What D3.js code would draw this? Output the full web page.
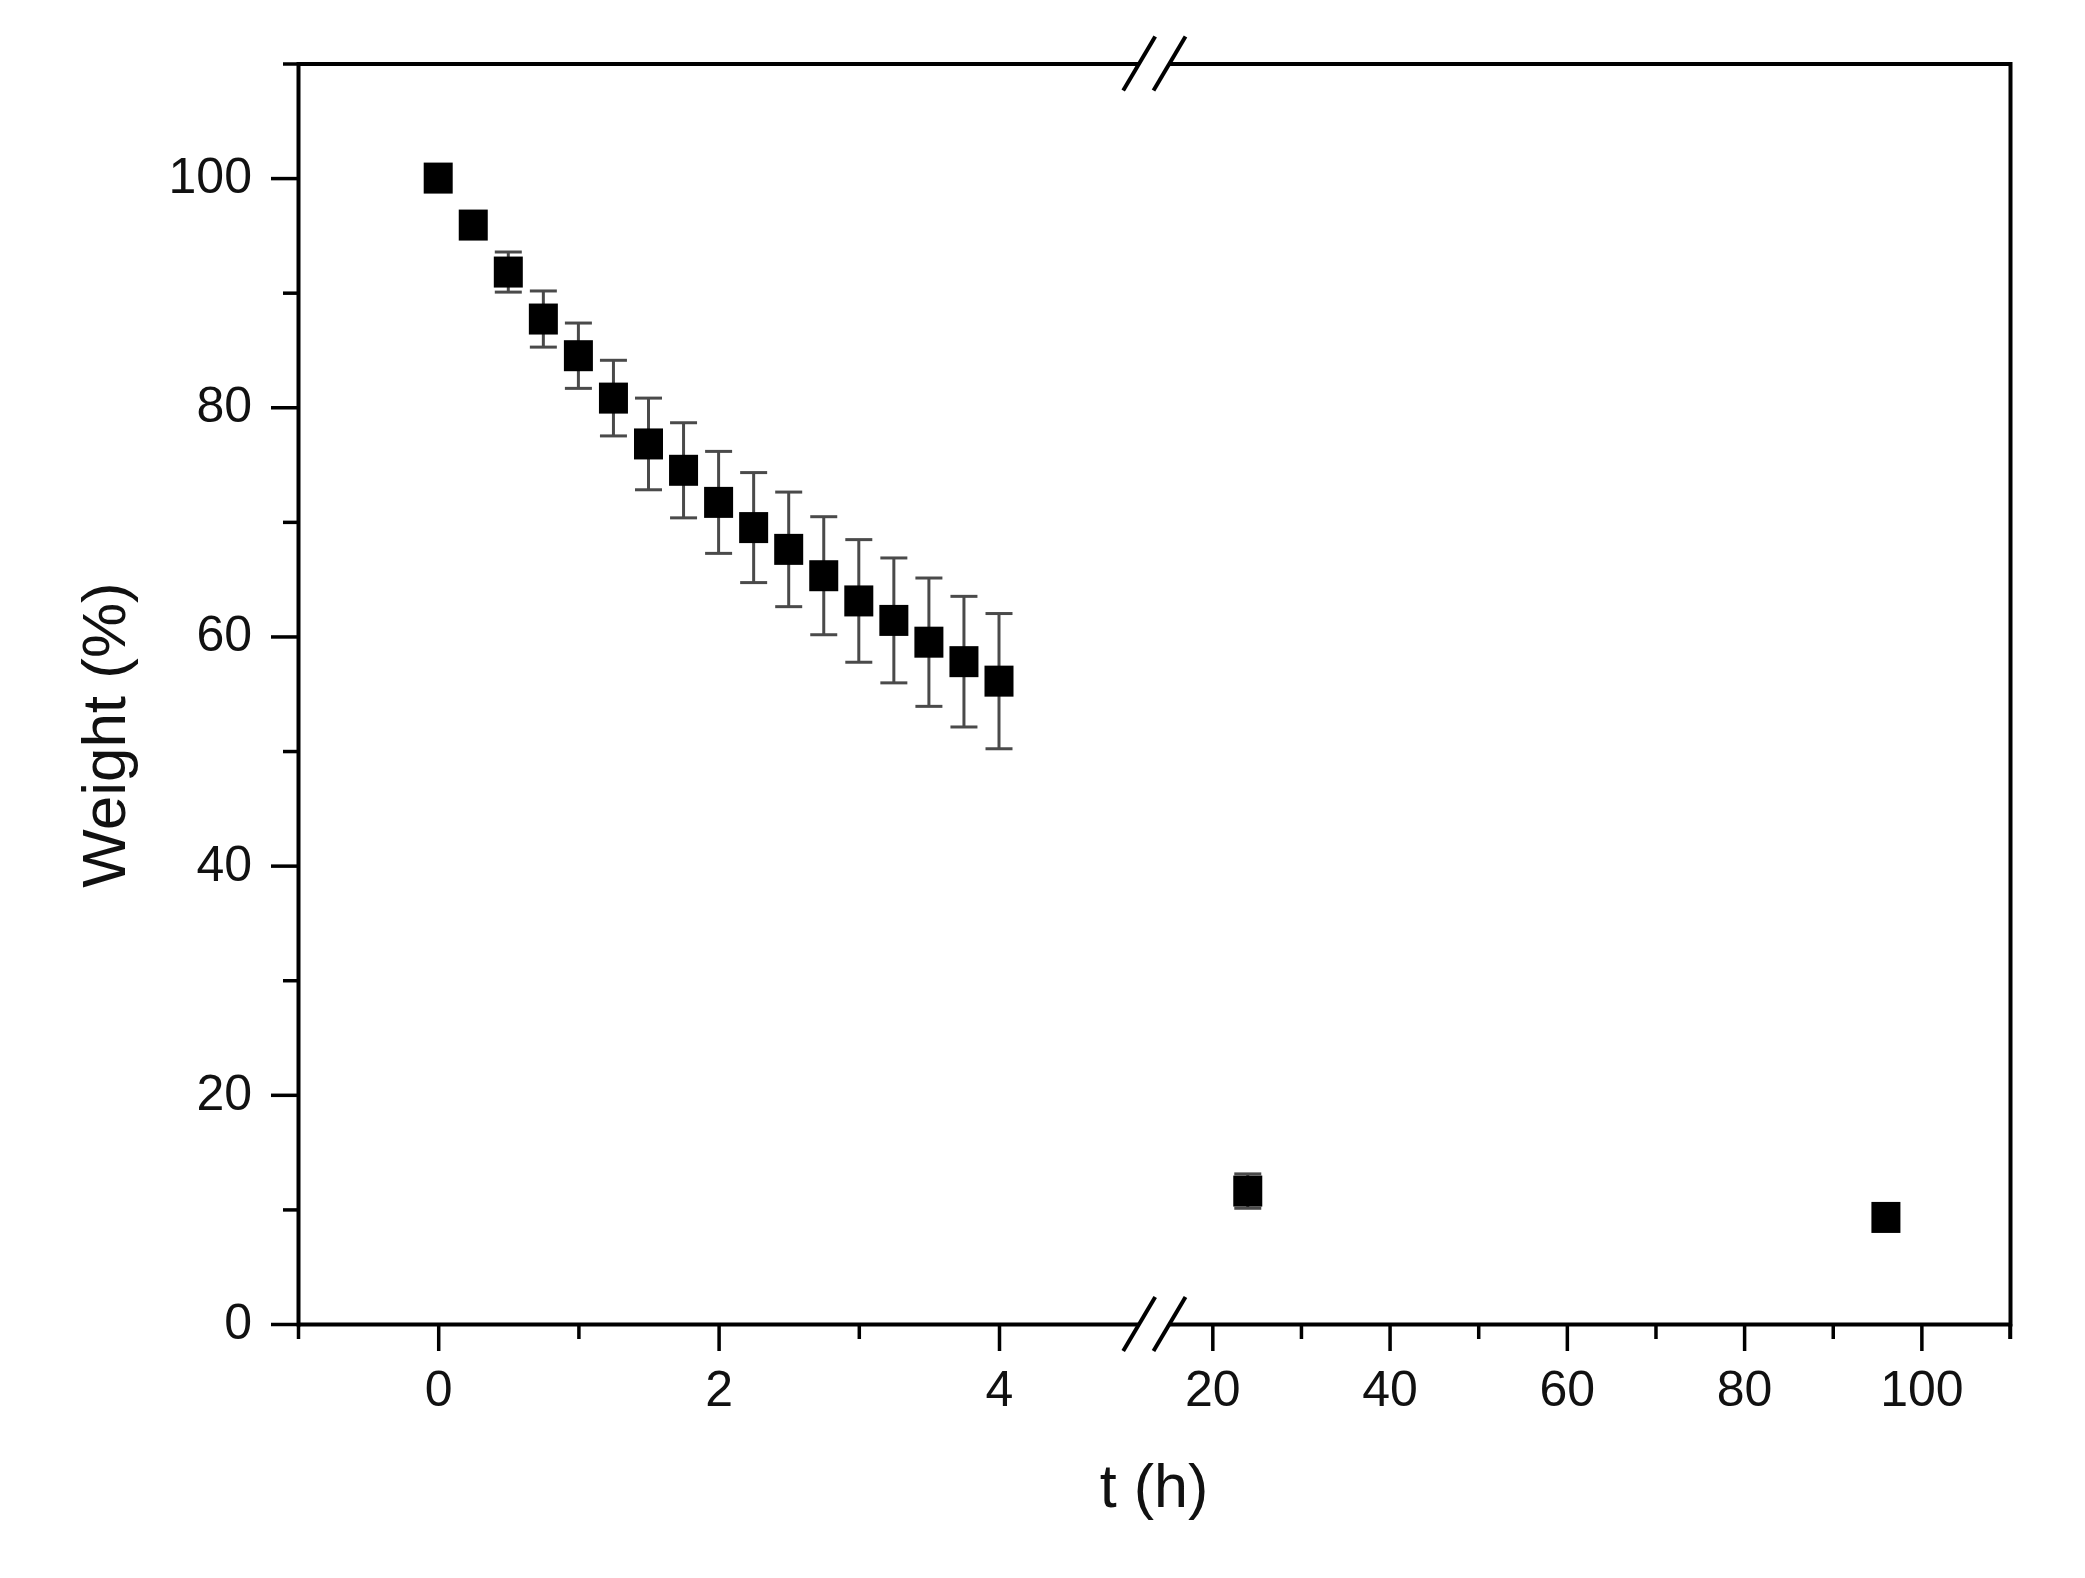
<!DOCTYPE html>
<html>
<head>
<meta charset="utf-8">
<script src="https://cdn.jsdelivr.net/npm/d3@7"></script>
<style>
  body { margin: 0; background: #fff; }
  svg { display: block; }
  .axis text { font-family: "Liberation Sans", Arial, sans-serif; fill: #111; }
</style>
</head>
<body>
<div id="chart"></div>
<script>
// weight loss over time, first 4 h in 15 min steps, then two late points
const timesShort = [0, 0.25, 0.5, 0.75, 1, 1.25, 1.5, 1.75, 2, 2.25, 2.5, 2.75, 3, 3.25, 3.5, 3.75, 4];
const weightShort = [100, 95.9, 91.8, 87.7, 84.5, 80.8, 76.8, 74.5, 71.7, 69.5, 67.6, 65.3, 63.1, 61.4, 59.5, 57.8, 56.1];
const errShort = [0.3, 1.0, 1.75, 2.45, 2.85, 3.3, 4.0, 4.15, 4.45, 4.8, 5.0, 5.15, 5.35, 5.45, 5.6, 5.7, 5.9];

const timesLong = [24, 96];
const weightLong = [11.6, 9.3];
const errLong = [1.5, 0.4];

const yMajor = [0, 20, 40, 60, 80, 100];
const yMinor = [10, 30, 50, 70, 90, 110];
const xLeftMajor = [0, 2, 4];
const xLeftMinor = [-1, 1, 3];
const xRightMajor = [20, 40, 60, 80, 100];
const xRightMinor = [30, 50, 70, 90, 110];

const W = 2085, H = 1578;
const plotL = 298, plotR = 2010, plotT = 63.5, plotB = 1324;
const gapStart = 1139.2, gapEnd = 1168;

const svg = d3.select("#chart").append("svg")
  .attr("width", W)
  .attr("height", H);

// scales: broken x axis made of two linear pieces
const xLeft = d3.scaleLinear().domain([-1, 5]).range([plotL, gapStart]);
const xRight = d3.scaleLinear().domain([15, 110]).range([gapEnd, plotR]);
const y = d3.scaleLinear().domain([0, 110]).range([plotB, plotT]);

const majorLen = 27, minorLen = 15, pad = 19;
const fmt = d3.format("d");

function styleAxis(g, fontSize) {
  g.attr("class", "axis")
    .attr("font-size", fontSize)
    .attr("font-family", null);
  g.selectAll("path.domain")
    .attr("stroke", "#000")
    .attr("stroke-width", 4)
    .attr("stroke-linecap", "square");
  g.selectAll(".tick line")
    .attr("stroke", "#000")
    .attr("stroke-width", 3.5);
}

/* y axis */
svg.append("g")
  .attr("transform", `translate(${plotL},0)`)
  .call(d3.axisLeft(y).tickValues(yMajor).tickFormat(fmt).tickSizeInner(majorLen).tickSizeOuter(0).tickPadding(pad))
  .call(g => styleAxis(g, 50))
  .call(g => g.selectAll(".tick text").attr("dy", "0.29em"));

svg.append("g")
  .attr("transform", `translate(${plotL},0)`)
  .call(d3.axisLeft(y).tickValues(yMinor).tickSize(minorLen).tickFormat(""))
  .call(g => styleAxis(g, 50))
  .call(g => g.select(".domain").remove());

/* bottom x axis, two pieces */
svg.append("g")
  .attr("transform", `translate(0,${plotB})`)
  .call(d3.axisBottom(xLeft).tickValues(xLeftMajor).tickFormat(fmt).tickSizeInner(majorLen).tickSizeOuter(0).tickPadding(pad))
  .call(g => styleAxis(g, 50))
  .call(g => g.select(".domain").attr("stroke-linecap", "butt"));

svg.append("g")
  .attr("transform", `translate(0,${plotB})`)
  .call(d3.axisBottom(xLeft).tickValues(xLeftMinor).tickSize(minorLen).tickFormat(""))
  .call(g => styleAxis(g, 50))
  .call(g => g.select(".domain").remove());

svg.append("g")
  .attr("transform", `translate(0,${plotB})`)
  .call(d3.axisBottom(xRight).tickValues(xRightMajor).tickFormat(fmt).tickSizeInner(majorLen).tickSizeOuter(0).tickPadding(pad))
  .call(g => styleAxis(g, 50))
  .call(g => g.select(".domain").attr("stroke-linecap", "butt"));

svg.append("g")
  .attr("transform", `translate(0,${plotB})`)
  .call(d3.axisBottom(xRight).tickValues(xRightMinor).tickSize(minorLen).tickFormat(""))
  .call(g => styleAxis(g, 50))
  .call(g => g.select(".domain").remove());

/* top frame (no ticks) and right frame */
svg.append("g")
  .attr("transform", `translate(0,${plotT})`)
  .call(d3.axisTop(xLeft).tickValues([]).tickSizeOuter(0))
  .call(g => styleAxis(g, 50))
  .call(g => g.select(".domain").attr("stroke-linecap", "butt"));

svg.append("g")
  .attr("transform", `translate(0,${plotT})`)
  .call(d3.axisTop(xRight).tickValues([]).tickSizeOuter(0))
  .call(g => styleAxis(g, 50))
  .call(g => g.select(".domain").attr("stroke-linecap", "butt"));

svg.append("g")
  .attr("transform", `translate(${plotR},0)`)
  .call(d3.axisRight(y).tickValues([]).tickSizeOuter(0))
  .call(g => styleAxis(g, 50));

// minor tick at the right end of the bottom axis
svg.append("line")
  .attr("x1", plotR).attr("x2", plotR)
  .attr("y1", plotB).attr("y2", plotB + minorLen)
  .attr("stroke", "#000").attr("stroke-width", 3.5);

/* break marks // on top and bottom */
[plotT, plotB].forEach(function (yy) {
  [gapStart, gapEnd + 1.5].forEach(function (xx) {
    svg.append("line")
      .attr("x1", xx - 16).attr("y1", yy + 27)
      .attr("x2", xx + 16).attr("y2", yy - 27)
      .attr("stroke", "#000")
      .attr("stroke-width", 4);
  });
});

/* points */
const pts = timesShort.map((t, i) => ({ x: xLeft(t), v: weightShort[i], e: errShort[i] }))
  .concat(timesLong.map((t, i) => ({ x: xRight(t), v: weightLong[i], e: errLong[i] })));

const capW = 27, mW = 29, mH = 31;

const err = svg.append("g")
  .attr("stroke", "#4a4a4a")
  .attr("stroke-width", 3);

err.selectAll(".stem")
  .data(pts)
  .enter()
  .append("line")
  .attr("class", "stem")
  .attr("x1", d => d.x).attr("x2", d => d.x)
  .attr("y1", d => y(d.v + d.e))
  .attr("y2", d => y(d.v - d.e));

err.selectAll(".cap")
  .data(pts.flatMap(d => [{ x: d.x, v: d.v + d.e }, { x: d.x, v: d.v - d.e }]))
  .enter()
  .append("line")
  .attr("class", "cap")
  .attr("x1", d => d.x - capW / 2).attr("x2", d => d.x + capW / 2)
  .attr("y1", d => y(d.v)).attr("y2", d => y(d.v));

svg.append("g")
  .selectAll("rect")
  .data(pts)
  .enter()
  .append("rect")
  .attr("x", d => d.x - mW / 2)
  .attr("y", d => y(d.v) - mH / 2)
  .attr("width", mW)
  .attr("height", mH)
  .attr("fill", "#000");

/* axis titles */
svg.append("text")
  .attr("x", (plotL + plotR) / 2)
  .attr("y", 1507)
  .attr("text-anchor", "middle")
  .attr("font-family", "Liberation Sans, Arial, sans-serif")
  .attr("font-size", 61)
  .attr("fill", "#111")
  .text("t (h)");

svg.append("text")
  .attr("transform", "translate(125,735) rotate(-90)")
  .attr("text-anchor", "middle")
  .attr("font-family", "Liberation Sans, Arial, sans-serif")
  .attr("font-size", 62)
  .attr("fill", "#111")
  .text("Weight (%)");
</script>
</body>
</html>
